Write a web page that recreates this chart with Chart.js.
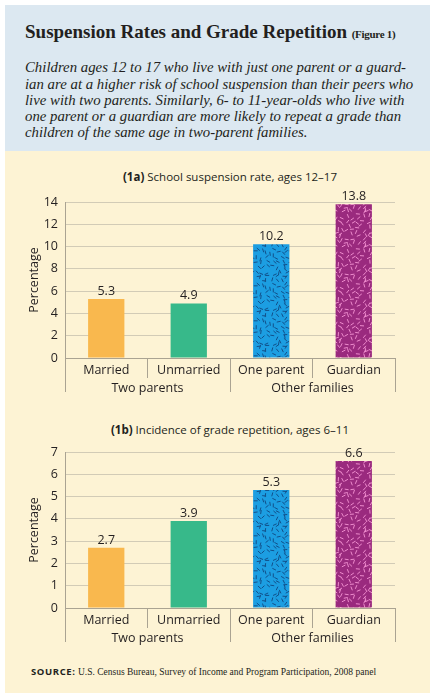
<!DOCTYPE html>
<html>
<head>
<meta charset="utf-8">
<script src="https://cdn.jsdelivr.net/npm/chart.js@4.4.1/dist/chart.umd.min.js"></script>
<style>
  body { margin: 0; width: 435px; height: 696px; background: #fff; position: relative; overflow: hidden; color: #231f20; }
  .head { position: absolute; left: 5px; top: 5px; width: 425px; height: 146px; background: #dce8f1; }
  .panel { position: absolute; left: 5px; top: 151px; width: 425px; height: 542px; background: #fdf3d4; }
  h1 { position: absolute; left: 25px; top: 21.5px; margin: 0; font: bold 19px/1 "Liberation Serif", serif; white-space: nowrap; }
  h1 small { font-size: 11px; letter-spacing: -0.3px; }
  .lead { position: absolute; left: 25px; top: 59.3px; margin: 0; font: italic 14.8px/16.2px "Liberation Serif", serif; white-space: nowrap; }
  .ctitle { position: absolute; left: 65px; width: 330px; text-align: center; font: 11.5px/1 "Open Sans", sans-serif; white-space: nowrap; }
  .box { position: absolute; left: 5px; width: 425px; height: 217px; }
  .src { position: absolute; left: 31px; top: 665px; font: 9.5px/1 "Liberation Serif", serif; white-space: nowrap; }
  .src b { font: bold 9.5px "Open Sans", sans-serif; letter-spacing: 0.6px; }
</style>
</head>
<body>
<div class="head"></div>
<div class="panel"></div>
<h1>Suspension Rates and Grade Repetition <small>(Figure 1)</small></h1>
<div class="lead">Children ages 12 to 17 who live with just one parent or a guard-<br>ian are at a higher risk of school suspension than their peers who<br>live with two parents. Similarly, 6- to 11-year-olds who live with<br>one parent or a guardian are more likely to repeat a grade than<br>children of the same age in two-parent families.</div>

<div class="ctitle" style="top:171px"><b>(1a)</b> School suspension rate, ages 12–17</div>
<div class="box" style="top:185px"><canvas id="chart1"></canvas></div>

<div class="ctitle" style="top:424px"><b>(1b)</b> Incidence of grade repetition, ages 6–11</div>
<div class="box" style="top:435px"><canvas id="chart2"></canvas></div>

<div class="src"><b>SOURCE:</b> U.S. Census Bureau, Survey of Income and Program Participation, 2008 panel</div>

<script>
// categories and values
const categories = ['Married', 'Unmarried', 'One parent', 'Guardian'];
const groups = ['Two parents', 'Other families'];
const suspension = [5.3, 4.9, 10.2, 13.8];
const repetition = [2.7, 3.9, 5.3, 6.6];
const suspensionAxis = { max: 14, step: 2 };
const repetitionAxis = { max: 7, step: 1 };

const INK = '#231f20';
const GRID = '#d2cbb6';
const LINE = '#aaa392';
const FONT = '"Open Sans", sans-serif';

// confetti texture for the "other families" bars
function confetti(bg, fg, seed) {
    const T = 35, cell = 5;
    const c = document.createElement('canvas');
    c.width = T; c.height = T;
    const g = c.getContext('2d');
    g.fillStyle = bg;
    g.fillRect(0, 0, T, T);
    g.strokeStyle = fg;
    g.lineWidth = 1;
    g.lineCap = 'butt';
    let s = seed;
    const rnd = () => { s = (s * 9301 + 49297) % 233280; return s / 233280; };
    for (let gy = 0; gy < T / cell; gy++) {
        for (let gx = 0; gx < T / cell; gx++) {
            const x = gx * cell + rnd() * cell;
            const y = gy * cell + rnd() * cell;
            const a = rnd() * Math.PI;
            const dx = Math.cos(a) * 2, dy = Math.sin(a) * 2;
            for (const ox of [-T, 0, T]) for (const oy of [-T, 0, T]) {
                g.beginPath();
                g.moveTo(x - dx + ox, y - dy + oy);
                g.lineTo(x + dx + ox, y + dy + oy);
                g.stroke();
            }
        }
    }
    return g.createPattern(c, 'repeat');
}

const barColors = ['#f9b84e', '#37b98a', confetti('#1c9ee2', '#12508a', 7), confetti('#9a2a7e', '#ee8ccd', 31)];

// numbers above the bars
const valueLabels = {
    id: 'valueLabels',
    afterDatasetsDraw(chart) {
        const ctx = chart.ctx;
        const ds = chart.data.datasets[0];
        ctx.save();
        ctx.font = '12.5px ' + FONT;
        ctx.fillStyle = INK;
        ctx.textAlign = 'center';
        ctx.textBaseline = 'alphabetic';
        chart.getDatasetMeta(0).data.forEach((bar, i) => {
            ctx.fillText(ds.data[i].toFixed(1), bar.x, bar.y - 4);
        });
        ctx.restore();
    }
};

function makeChart(id, values, axis) {
    const ctx = document.getElementById(id).getContext('2d');
    return new Chart(ctx, {
        type: 'bar',
        data: {
            labels: categories,
            datasets: [{
                data: values,
                backgroundColor: barColors,
                borderWidth: 0,
                barPercentage: 0.44,
                categoryPercentage: 1
            }]
        },
        plugins: [valueLabels],
        options: {
            responsive: true,
            maintainAspectRatio: false,
            animation: false,
            layout: { padding: { top: 17, right: 35, bottom: 0, left: 0 } },
            plugins: { legend: { display: false }, tooltip: { enabled: false } },
            scales: {
                x: {
                    offset: true,
                    grid: { offset: true, drawOnChartArea: false, tickLength: 20, color: LINE },
                    border: { display: true, color: LINE },
                    ticks: { color: INK, font: { family: FONT, size: 12.5 }, padding: -15, maxRotation: 0, autoSkip: false },
                    afterFit: s => { s.height = 20; }
                },
                x2: {
                    type: 'category',
                    labels: groups,
                    position: 'bottom',
                    offset: true,
                    grid: { offset: true, drawOnChartArea: false, tickLength: 14, color: LINE },
                    border: { display: false },
                    ticks: { color: INK, font: { family: FONT, size: 12.5 }, padding: -11.5, maxRotation: 0, autoSkip: false },
                    afterFit: s => { s.height = 24; }
                },
                y: {
                    min: 0,
                    max: axis.max,
                    grid: { color: GRID, drawTicks: false },
                    border: { display: true, color: LINE },
                    ticks: { stepSize: axis.step, color: INK, font: { family: FONT, size: 12.5 }, padding: 7 },
                    title: { display: true, text: 'Percentage', color: INK, font: { family: FONT, size: 12.5 }, padding: { top: 22, bottom: 0 } },
                    afterFit: s => { s.width = 60; }
                }
            }
        }
    });
}

makeChart('chart1', suspension, suspensionAxis);
makeChart('chart2', repetition, repetitionAxis);
</script>
</body>
</html>
